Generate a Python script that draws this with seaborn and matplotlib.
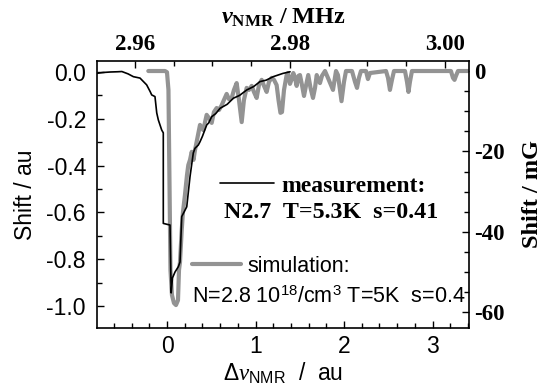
import matplotlib
matplotlib.use("Agg")
import matplotlib.pyplot as plt
import seaborn as sns
import pandas as pd
from matplotlib.ticker import MultipleLocator, FormatStrFormatter

# ---------------- data ----------------
# measurement (bottom axis in au, left axis in au)
meas_x = [-0.80, -0.72, -0.64, -0.56, -0.51, -0.44, -0.38, -0.305, -0.23, -0.19,
          -0.173, -0.136, -0.116, -0.098, -0.06, -0.042, -0.042, -0.01, 0.034, 0.047,
          0.062, 0.09, 0.128, 0.147, 0.166, 0.223, 0.26, 0.297, 0.316, 0.354,
          0.373, 0.40, 0.449, 0.47, 0.505, 0.55, 0.60, 0.68, 0.75, 0.82, 0.90,
          0.98, 1.05, 1.12, 1.20, 1.31, 1.39]
meas_y = [-0.006, -0.002, 0.0, 0.001, 0.002, -0.008, -0.02, -0.026, -0.055, -0.084,
          -0.098, -0.105, -0.175, -0.205, -0.248, -0.26, -0.647, -0.65, -0.654, -0.944,
          -0.88, -0.855, -0.832, -0.812, -0.618, -0.576, -0.447, -0.346, -0.326, -0.312,
          -0.298, -0.275, -0.226, -0.218, -0.191, -0.178, -0.155, -0.138, -0.112, -0.100, -0.077,
          -0.062, -0.041, -0.035, -0.020, -0.006, 0.001]

# simulation (top axis in MHz, right axis in mG)
sim_mhz = [2.96172, 2.96387, 2.96413, 2.96432, 2.96445, 2.96458, 2.96477, 2.96503, 2.96529, 2.96555,
           2.96568, 2.96581, 2.96603, 2.96619, 2.96645, 2.96671, 2.96688, 2.9671, 2.96732, 2.96755,
           2.96774, 2.968, 2.96839, 2.96881, 2.96925, 2.96955, 2.9699, 2.97019, 2.97054, 2.97084,
           2.97119, 2.97148, 2.97183, 2.97213, 2.97248, 2.97277, 2.97312, 2.97342, 2.97377, 2.97406,
           2.97441, 2.97471, 2.97506, 2.97535, 2.9757, 2.976, 2.97635, 2.97665, 2.97699, 2.97729,
           2.97764, 2.97794, 2.97828, 2.97852, 2.97877, 2.97897, 2.97923, 2.97957, 2.97974, 2.98,
           2.98019, 2.98043, 2.98065, 2.98086, 2.9811, 2.98129, 2.98155, 2.98181, 2.98206, 2.98236,
           2.98265, 2.98297, 2.98323, 2.98345, 2.98368, 2.98387, 2.98413, 2.98452, 2.9849, 2.98555,
           2.98594, 2.98619, 2.98665, 2.98697, 2.98723, 2.988, 2.98839, 2.98865, 2.9889, 2.98916,
           2.98981, 2.99006, 2.99032, 2.99239, 2.99265, 2.9929, 2.99316, 2.99342, 2.99484, 2.9951,
           2.99529, 2.99548, 2.99574, 3.00077, 3.00103, 3.00123, 3.00142, 3.00168, 3.0032]
sim_mg = [0.0, 0.0, -0.3, -4.7, -27.1, -49.5, -55.7, -57.7, -58.2, -57.0,
          -49.5, -47.5, -39.6, -35.1, -30.8, -25.9, -23.4, -22.1, -20.1, -22.1,
          -19.7, -17.2, -13.4, -14.7, -10.9, -11.7, -12.9, -10.2, -9.2, -9.7,
          -8.5, -7.2, -5.7, -7.0, -6.7, -4.7, -3.0, -7.2, -12.7, -7.2,
          -4.2, -4.7, -3.7, -5.2, -6.7, -3.5, -2.2, -3.7, -5.2, -2.7,
          -1.7, -2.2, -3.5, -7.2, -10.4, -10.2, -4.7, -1.0, -0.5, -3.2,
          -2.2, -0.5, -1.7, -3.7, -1.2, -1.0, -3.5, -6.2, -3.7, -1.0,
          -4.2, -6.7, -4.2, -1.0, -2.2, -3.0, -1.2, 0.0, -1.7, -4.7,
          0.0, -1.0, -7.5, -2.7, 0.0, 0.0, -2.7, -4.2, -1.7, 0.0,
          0.0, -2.0, -0.5, 0.0, -1.7, -4.7, -2.2, 0.0, 0.0, -2.7,
          -5.2, -2.7, 0.0, 0.0, -1.7, -2.2, -1.2, 0.0, 0.0]

bottom_ticks = [0, 1, 2, 3]
left_ticks = [0.0, -0.2, -0.4, -0.6, -0.8, -1.0]
top_ticks = [2.96, 2.98, 3.00]
right_ticks = [0, -20, -40, -60]

meas = pd.DataFrame({"x": meas_x, "y": meas_y})
sim = pd.DataFrame({"f": sim_mhz, "s": sim_mg})

# ---------------- style ----------------
sns.set_style("ticks")
plt.rcParams["font.family"] = ["Liberation Sans", "DejaVu Sans"]
plt.rcParams["axes.unicode_minus"] = False
plt.rcParams["mathtext.fontset"] = "custom"
plt.rcParams["mathtext.rm"] = "Liberation Sans"
plt.rcParams["mathtext.it"] = "Liberation Serif:italic"
plt.rcParams["mathtext.bf"] = "Liberation Serif:bold"
plt.rcParams["mathtext.bfit"] = "Liberation Serif:italic:bold"
for k in ["text.color", "axes.labelcolor", "xtick.color", "ytick.color",
          "axes.edgecolor"]:
    plt.rcParams[k] = "black"

SERIF = ["Liberation Serif", "DejaVu Serif"]

fig = plt.figure(figsize=(5.56, 3.85), dpi=100)
rect = [97 / 556, 1 - 328 / 385, 372 / 556, 267 / 385]
ax = fig.add_axes(rect)
ax2 = fig.add_axes(rect, frameon=False, label="twin")
ax.set_zorder(2)
ax.patch.set_visible(False)
ax2.set_zorder(1)

sns.lineplot(data=sim, x="f", y="s", ax=ax2, color="#939393", lw=3.0,
             sort=False, estimator=None)
sns.lineplot(data=meas, x="x", y="y", ax=ax, color="black", lw=1.2,
             sort=False, estimator=None)

# bottom / left axes
ax.set_xlim(-0.791, 3.412)
ax.set_ylim(-1.094, 0.047)
ax.set_xticks(bottom_ticks)
ax.xaxis.set_minor_locator(MultipleLocator(0.2))
ax.set_yticks(left_ticks)
ax.yaxis.set_minor_locator(MultipleLocator(0.1))
ax.yaxis.set_major_formatter(FormatStrFormatter("%.1f"))
ax.tick_params(which="both", direction="in", top=False, right=False,
               labelsize=16.5, width=1.0)
ax.tick_params(axis="y", pad=8)
ax.tick_params(axis="x", pad=5)
ax.tick_params(which="major", length=5)
ax.tick_params(which="minor", length=3.5)
for sp in ax.spines.values():
    sp.set_linewidth(1.2)
    sp.set_visible(True)
ax.set_xlabel(r"$\Delta\nu_{\mathrm{NMR}}$  /  au", fontsize=16.5, labelpad=2)
ax.set_ylabel("Shift / au", fontsize=16.5, labelpad=7)

# top / right axes
ax2.set_xlim(2.95510, 3.00310)
ax2.set_ylim(-63.9, 2.49)
ax2.xaxis.tick_top()
ax2.xaxis.set_label_position("top")
ax2.yaxis.tick_right()
ax2.yaxis.set_label_position("right")
ax2.set_xticks(top_ticks)
ax2.xaxis.set_minor_locator(MultipleLocator(0.005))
ax2.xaxis.set_major_formatter(FormatStrFormatter("%.2f"))
ax2.set_yticks(right_ticks)
ax2.yaxis.set_minor_locator(MultipleLocator(5))
ax2.tick_params(which="both", direction="in", bottom=False, left=False,
                top=True, right=True, labelbottom=False, labelleft=False,
                labeltop=True, labelright=True, width=1.0, pad=4)
ax2.tick_params(which="major", length=5)
ax2.tick_params(which="minor", length=3.5)
for lab in ax2.get_xticklabels() + ax2.get_yticklabels():
    lab.set_fontfamily(SERIF)
    lab.set_fontweight("bold")
    lab.set_fontsize(16.5)
ax2.set_xlabel(r"$\mathbfit{\nu}_{\mathbf{NMR}}$ / MHz", fontfamily=SERIF,
               fontweight="bold", fontsize=17.5, labelpad=8)
ax2.set_ylabel("Shift / mG", fontfamily=SERIF, fontweight="bold",
               fontsize=17.5, labelpad=12)

# legends / annotations
h_meas = ax.get_lines()[0]
h_sim = ax2.get_lines()[0]
leg1 = ax.legend([h_meas], ["measurement:"], loc="center left",
                 bbox_to_anchor=(0.33, 0.532), frameon=False, borderpad=0,
                 borderaxespad=0, handlelength=2.3, handletextpad=0.3,
                 prop={"family": SERIF, "weight": "bold", "size": 17})
ax.add_artist(leg1)
ax.text(0.629, 0.431, "N2.7  T=5.3K  s=0.41", transform=ax.transAxes,
        ha="center", va="center", fontfamily=SERIF, fontweight="bold",
        fontsize=17.3)
leg2 = ax.legend([h_sim], ["simulation:"], loc="center left",
                 bbox_to_anchor=(0.255, 0.232), frameon=False, borderpad=0,
                 borderaxespad=0, handlelength=2.3, handletextpad=0.3,
                 prop={"size": 15.5})
ax.text(0.624, 0.116, r"N=2.8 10$^{18}$/cm$^{3}$ T=5K  s=0.4",
        transform=ax.transAxes, ha="center", va="center", fontsize=15.5)

fig.savefig("out.png", dpi=100)
